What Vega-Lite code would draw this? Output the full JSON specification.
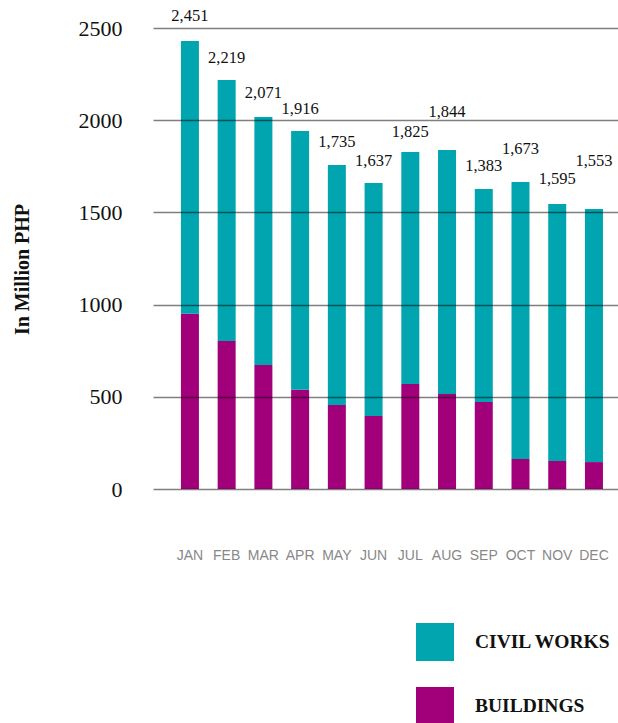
{
  "$schema": "https://vega.github.io/schema/vega-lite/v6.json",
  "autosize": {"type": "none"},
  "padding": {"left": 153, "top": 28, "right": 0, "bottom": 234},
  "width": 465,
  "height": 461,
  "background": "white",
  "config": {"view": {"stroke": null}},
  "datasets": {
    "bars": [
      {"month": "JAN", "series": "BUILDINGS", "value": 951},
      {"month": "JAN", "series": "CIVIL WORKS", "value": 1479},
      {"month": "FEB", "series": "BUILDINGS", "value": 803},
      {"month": "FEB", "series": "CIVIL WORKS", "value": 1415},
      {"month": "MAR", "series": "BUILDINGS", "value": 672},
      {"month": "MAR", "series": "CIVIL WORKS", "value": 1345},
      {"month": "APR", "series": "BUILDINGS", "value": 538},
      {"month": "APR", "series": "CIVIL WORKS", "value": 1403},
      {"month": "MAY", "series": "BUILDINGS", "value": 455},
      {"month": "MAY", "series": "CIVIL WORKS", "value": 1302},
      {"month": "JUN", "series": "BUILDINGS", "value": 396},
      {"month": "JUN", "series": "CIVIL WORKS", "value": 1263},
      {"month": "JUL", "series": "BUILDINGS", "value": 569},
      {"month": "JUL", "series": "CIVIL WORKS", "value": 1258},
      {"month": "AUG", "series": "BUILDINGS", "value": 515},
      {"month": "AUG", "series": "CIVIL WORKS", "value": 1323},
      {"month": "SEP", "series": "BUILDINGS", "value": 472},
      {"month": "SEP", "series": "CIVIL WORKS", "value": 1155},
      {"month": "OCT", "series": "BUILDINGS", "value": 163},
      {"month": "OCT", "series": "CIVIL WORKS", "value": 1502},
      {"month": "NOV", "series": "BUILDINGS", "value": 152},
      {"month": "NOV", "series": "CIVIL WORKS", "value": 1393},
      {"month": "DEC", "series": "BUILDINGS", "value": 146},
      {"month": "DEC", "series": "CIVIL WORKS", "value": 1372}
    ],
    "labels": [
      {"month": "JAN", "label": "2,451", "label_y": 2565},
      {"month": "FEB", "label": "2,219", "label_y": 2337},
      {"month": "MAR", "label": "2,071", "label_y": 2147},
      {"month": "APR", "label": "1,916", "label_y": 2061},
      {"month": "MAY", "label": "1,735", "label_y": 1882},
      {"month": "JUN", "label": "1,637", "label_y": 1779},
      {"month": "JUL", "label": "1,825", "label_y": 1936},
      {"month": "AUG", "label": "1,844", "label_y": 2044},
      {"month": "SEP", "label": "1,383", "label_y": 1752},
      {"month": "OCT", "label": "1,673", "label_y": 1844},
      {"month": "NOV", "label": "1,595", "label_y": 1681},
      {"month": "DEC", "label": "1,553", "label_y": 1779}
    ]
  },
  "encoding": {
    "x": {
      "field": "month",
      "type": "nominal",
      "sort": ["JAN","FEB","MAR","APR","MAY","JUN","JUL","AUG","SEP","OCT","NOV","DEC"],
      "scale": {"paddingInner": 0.51, "paddingOuter": 0.585, "align": 0.65},
      "axis": {
        "title": null,
        "labelAngle": 0,
        "domain": false,
        "ticks": false,
        "labelPadding": 59,
        "labelFont": "Liberation Sans",
        "labelFontSize": 14,
        "labelColor": "#888888"
      }
    }
  },
  "layer": [
    {
      "data": {"name": "bars"},
      "mark": {"type": "bar"},
      "encoding": {
        "y": {
          "field": "value",
          "type": "quantitative",
          "stack": "zero",
          "scale": {"domain": [0, 2500], "nice": false},
          "axis": {
            "values": [0, 500, 1000, 1500, 2000, 2500],
            "title": "In Million PHP",
            "titleFont": "Liberation Serif",
            "titleFontSize": 20,
            "titleFontWeight": "bold",
            "titleColor": "#111111",
            "titleAngle": 270,
            "titleAlign": "center",
            "titleBaseline": "middle",
            "titleX": -131,
            "titleY": 241,
            "domain": false,
            "ticks": false,
            "grid": true,
            "gridColor": "#000000",
            "gridOpacity": 0.5,
            "gridWidth": 1.7,
            "zindex": 1,
            "labelFont": "Liberation Serif",
            "labelFontSize": 22,
            "labelColor": "#111111",
            "labelPadding": 31,
            "format": "d"
          }
        },
        "color": {
          "field": "series",
          "type": "nominal",
          "scale": {"domain": ["CIVIL WORKS", "BUILDINGS"], "range": ["#00A5AF", "#A2007A"]},
          "legend": {
            "orient": "none",
            "legendX": 263,
            "legendY": 595,
            "title": null,
            "padding": 0,
            "symbolType": "square",
            "symbolSize": 1444,
            "symbolStrokeWidth": 0,
            "symbolOpacity": 1,
            "rowPadding": 26,
            "labelOffset": 21,
            "labelFont": "Liberation Serif",
            "labelFontSize": 19.5,
            "labelFontWeight": "bold",
            "labelColor": "#111111",
            "labelLimit": 300
          }
        },
        "order": {"field": "series", "sort": "ascending"}
      }
    },
    {
      "data": {"name": "labels"},
      "mark": {"type": "text", "font": "Liberation Serif", "fontSize": 16.5, "color": "#111111", "baseline": "middle", "align": "center"},
      "encoding": {
        "y": {"field": "label_y", "type": "quantitative"},
        "text": {"field": "label", "type": "nominal"}
      }
    }
  ]
}
